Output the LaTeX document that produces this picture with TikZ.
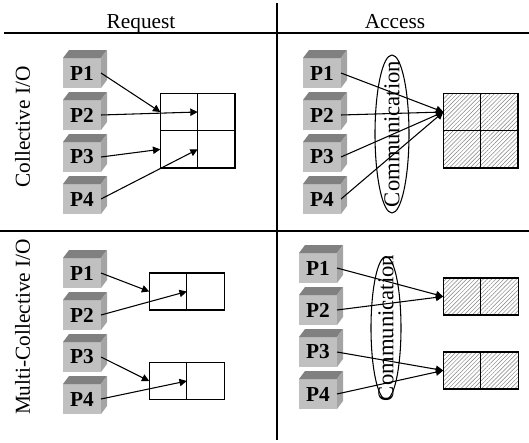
\documentclass[tikz,border=0pt]{standalone}
\usepackage{fontspec}
\setmainfont{Liberation Serif}
\usepackage{xcolor}
\usepackage{tikz}
\usetikzlibrary{arrows.meta,positioning,shapes.geometric,patterns.meta}

\definecolor{cubefront}{HTML}{C0C0C0}
\definecolor{cubetop}{HTML}{808080}
\definecolor{cubeside}{HTML}{A4A4A4}

\begin{document}
\begin{tikzpicture}[x=0.75pt,y=-0.75pt,
                >={Triangle[width=5.5pt,length=5.5pt]},
                node distance=9pt,
                font=\fontsize{16}{18}\selectfont,
                line width=0.8pt,
                proc/.style = {fill=cubefront, minimum width=28.5pt, minimum height=22.5pt,
                               inner sep=0pt, outer sep=0pt, font=\fontsize{16}{18}\selectfont\bfseries},
                cell/.style = {draw, minimum width=28pt, minimum height=28pt, inner sep=0pt, outer sep=0pt},
                slot/.style = {draw, minimum width=28.2pt, minimum height=27.75pt, inner sep=0pt, outer sep=0pt},
                hatch/.style = {pattern={Lines[angle=45,distance=2.2pt,line width=0.35pt]}, pattern color=gray},
                ring/.style = {draw, ellipse, inner sep=0pt}]
            \useasboundingbox (0,0) rectangle (529,443);

            % Frame
            \draw[line width=1.3pt] (4,33) -- (529,33);
            \draw[line width=1.6pt] (0,231) -- (529,231);
            \draw[line width=1.6pt] (277,3) -- (277,440);

            % Titles
            \node[anchor=base] (request) at (141,28) {Request};
            \node[anchor=base] (access) at (395,28) {Access};
            \node[rotate=90, anchor=base] (coll) at (30,127) {Collective I/O};
            \node[rotate=90, anchor=base] (multi) at (30,327) {Multi-Collective I/O};

            % Nodes: processes
            \node[proc] (a1) at (82,73) {P1};
            \node[proc] (a2) [below=of a1] {P2};
            \node[proc] (a3) [below=of a2] {P3};
            \node[proc] (a4) [below=of a3] {P4};

            \node[proc] (b1) at (322,73) {P1};
            \node[proc] (b2) [below=of b1] {P2};
            \node[proc] (b3) [below=of b2] {P3};
            \node[proc] (b4) [below=of b3] {P4};

            \node[proc] (c1) at (82,273) {P1};
            \node[proc] (c2) [below=of c1] {P2};
            \node[proc] (c3) [below=of c2] {P3};
            \node[proc] (c4) [below=of c3] {P4};

            \node[proc] (d1) at (318,268) {P1};
            \node[proc] (d2) [below=of d1] {P2};
            \node[proc] (d3) [below=of d2] {P3};
            \node[proc] (d4) [below=of d3] {P4};

            \foreach \n in {a1,a2,a3,a4,b1,b2,b3,b4,c1,c2,c3,c4,d1,d2,d3,d4} {
                \fill[cubetop] (\n.north west) -- ++(6,-8) -- ++(38,0) -- (\n.north east) -- cycle;
                \fill[cubeside] (\n.north east) -- ++(6,-8) -- ++(0,30) -- (\n.south east) -- cycle;
            }

            % Nodes: files
            \node[cell] (g11) at (179,112) {};
            \node[cell] (g12) [right=0pt of g11] {};
            \node[cell] (g21) [below=0pt of g11] {};
            \node[cell] (g22) [right=0pt of g21] {};

            \node[cell,hatch] (h11) at (462,112) {};
            \node[cell,hatch] (h12) [right=0pt of h11] {};
            \node[cell,hatch] (h21) [below=0pt of h11] {};
            \node[cell,hatch] (h22) [right=0pt of h21] {};

            \node[slot] (m1) at (168,291.5) {};
            \node[slot] (m2) [right=0pt of m1] {};
            \node[slot] (n1) at (168,381) {};
            \node[slot] (n2) [right=0pt of n1] {};

            \node[slot,hatch] (r1) at (462,296.5) {};
            \node[slot,hatch] (r2) [right=0pt of r1] {};
            \node[slot,hatch] (s1) at (462,370.5) {};
            \node[slot,hatch] (s2) [right=0pt of s1] {};

            % Communication
            \node[ring, minimum width=25.5pt, minimum height=118.5pt] (ring1) at (392,134) {};
            \node[rotate=90, font=\fontsize{17}{18}\selectfont] (comm1) at (ring1) {Communication};
            \node[ring, minimum width=22.5pt, minimum height=107pt] (ring2) at (386,328) {};
            \node[rotate=90, font=\fontsize{17}{18}\selectfont] (comm2) at (ring2) {Communication};

            %Edges
            \draw[->] (a1.east) -- (g11.west);
            \draw[->] (a2.east) -- (g12.west);
            \draw[->] (a3.east) -- (g21.west);
            \draw[->] (a4.east) -- (g22.west);

            \draw[->] (b1.east) -- (h11.west);
            \draw[->] (b2.east) -- (h11.west);
            \draw[->] (b3.east) -- (h11.west);
            \draw[->] (b4.east) -- (h11.west);

            \draw[->] (c1.east) -- (m1.west);
            \draw[->] (c2.east) -- (m2.west);
            \draw[->] (c3.east) -- (n1.west);
            \draw[->] (c4.east) -- (n2.west);

            \draw[->] (d1.east) -- (r1.west);
            \draw[->] (d2.east) -- (r1.west);
            \draw[->] (d3.east) -- (s1.west);
            \draw[->] (d4.east) -- (s1.west);
        \end{tikzpicture}
\end{document}
